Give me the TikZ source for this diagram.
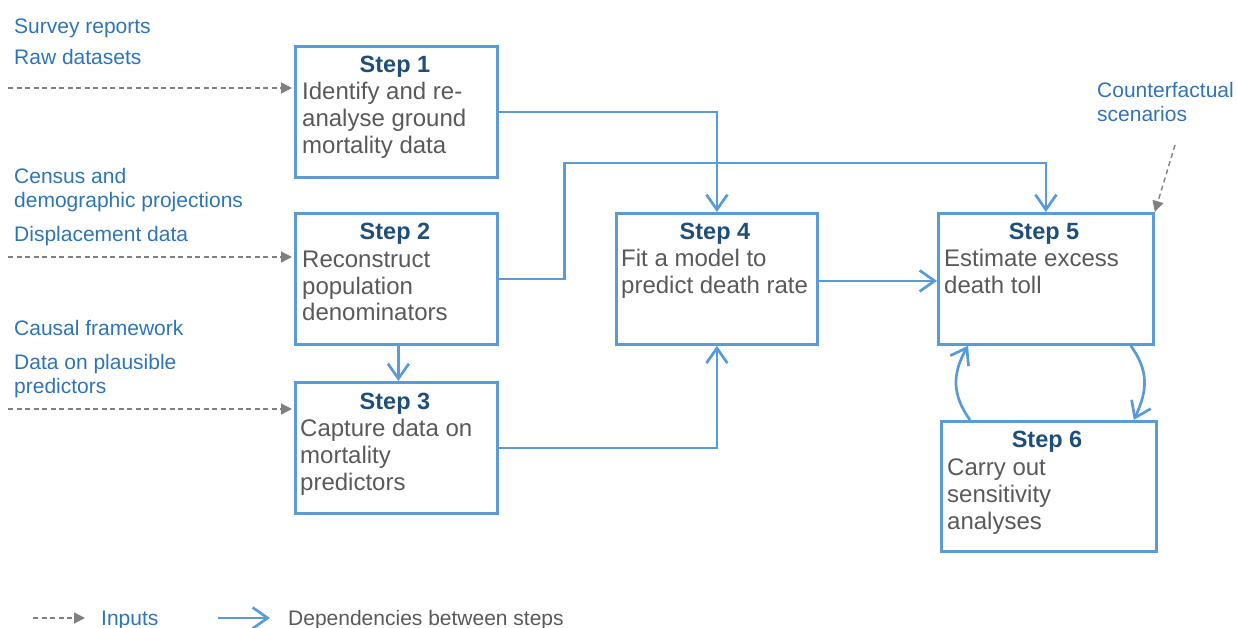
\documentclass[tikz,border=0pt]{standalone}
\usepackage{fontspec}
\setmainfont{Liberation Sans}
\usetikzlibrary{arrows.meta,calc}
\definecolor{boxblue}{HTML}{5B9BD5}
\definecolor{titleblue}{HTML}{1F4E79}
\definecolor{inblue}{HTML}{2E75B6}
\definecolor{bodygray}{HTML}{595959}
\definecolor{dashgray}{HTML}{808080}
\tikzset{
  stepbox/.style={draw=boxblue, line width=2.8pt, anchor=north west, inner sep=0pt},
  steptitle/.style={anchor=base, inner sep=0pt, text=titleblue, font=\fontsize{23.5}{27}\selectfont\bfseries},
  stepbody/.style={anchor=base west, inner sep=0pt, align=left, text=bodygray, font=\fontsize{24}{27}\selectfont},
  inlabel/.style={anchor=base west, inner sep=0pt, align=left, text=inblue, font=\fontsize{21}{24}\selectfont},
  dep/.style={draw=boxblue, line width=2.7pt, -{Straight Barb[length=15pt,width=21pt,line width=2.7pt]}},
  inarrow/.style={draw=dashgray, line width=1.4pt, dash pattern=on 5pt off 3.5pt, -{Triangle[length=11pt,width=11pt]}},
}
\begin{document}
\begin{tikzpicture}[x=1pt,y=-1pt]
\useasboundingbox (0,0) rectangle (1237,628);
% boxes
\node[stepbox, minimum width=202pt, minimum height=131pt] (s1) at (294,45) {};
\node[stepbox, minimum width=202pt, minimum height=131pt] (s2) at (294,212) {};
\node[stepbox, minimum width=202pt, minimum height=131pt] (s3) at (294,381) {};
\node[stepbox, minimum width=201pt, minimum height=131pt] (s4) at (615,212) {};
\node[stepbox, minimum width=215pt, minimum height=131pt] (s5) at (937,212) {};
\node[stepbox, minimum width=215pt, minimum height=130pt] (s6) at (940,420) {};
% titles
\node[steptitle] (t1) at (395,73) {Step 1};
\node[steptitle] (t2) at (395,240) {Step 2};
\node[steptitle] (t3) at (395,409) {Step 3};
\node[steptitle] (t4) at (715,240) {Step 4};
\node[steptitle] (t5) at (1044,240) {Step 5};
\node[steptitle] (t6) at (1047,447) {Step 6};
% bodies (anchor at the baseline of the last line)
\node[stepbody] (b1) at (302,154) {Identify and re-\\analyse ground\\mortality data};
\node[stepbody] (b2) at (302,321) {Reconstruct\\population\\denominators};
\node[stepbody] (b3) at (300,490) {Capture data on\\mortality\\predictors};
\node[stepbody] (b4) at (621,294) {Fit a model to\\predict death rate};
\node[stepbody] (b5) at (944,294) {Estimate excess\\death toll};
\node[stepbody] (b6) at (947,529) {Carry out\\sensitivity\\analyses};
% input labels
\node[inlabel] (l1) at (14,34) {Survey reports};
\node[inlabel] (l2) at (14,65) {Raw datasets};
\node[inlabel] (l3) at (14,208) {Census and\\demographic projections};
\node[inlabel] (l4) at (14,242) {Displacement data};
\node[inlabel] (l5) at (14,335) {Causal framework};
\node[inlabel] (l6) at (14,393) {Data on plausible\\predictors};
\node[inlabel] (l7) at (1097,122) {Counterfactual\\scenarios};
% input arrows
\coordinate (i1) at (8,88);
\coordinate (i2) at (8,257);
\coordinate (i3) at (8,409);
\coordinate (i4) at (1175,145);
\draw[inarrow, shorten >=2pt] (i1) -- (i1 -| s1.west);
\draw[inarrow, shorten >=2pt] (i2) -- (i2 -| s2.west);
\draw[inarrow, shorten >=2pt] (i3) -- (i3 -| s3.west);
\draw[inarrow] (i4) -- (s5.north east);
% dependencies
\draw[dep] (s1.east) -| (s4.north);
\draw[dep] (s2.east) -- ++(66,0) |- ($(s5.north)+(0,-49)$) -- (s5.north);
\draw[dep] ($(s2.south)+(2,0)$) -- ($(s3.north)+(2,0)$);
\draw[dep] (s3.east) -| (s4.south);
\draw[dep] ($(s4.east)+(0,2)$) -- ($(s5.west)+(0,2)$);
\draw[dep] ($(s5.south east)+(-24,0)$) .. controls ($(s5.south east)+(-6,25)$) and ($(s6.north east)+(-10,-30)$) .. ($(s6.north east)+(-24,0)$);
\draw[dep] ($(s6.north west)+(30,0)$) .. controls ($(s6.north west)+(12,-25)$) and ($(s5.south west)+(15,28)$) .. ($(s5.south west)+(31,0)$);
% legend
\coordinate (g1) at (33,618);
\coordinate (g2) at (85,618);
\coordinate (g3) at (218,618);
\coordinate (g4) at (270,618);
\draw[inarrow] (g1) -- (g2);
\draw[dep] (g3) -- (g4);
\node[inlabel] (lg1) at (101,625) {Inputs};
\node[inlabel, text=bodygray] (lg2) at (288,625) {Dependencies between steps};
\end{tikzpicture}
\end{document}
